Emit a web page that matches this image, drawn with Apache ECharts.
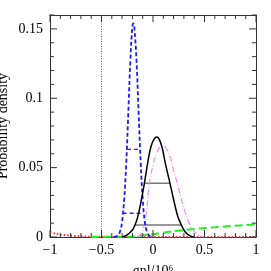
<!DOCTYPE html>
<html><head><meta charset="utf-8">
<script src="https://cdn.jsdelivr.net/npm/echarts@6/dist/echarts.min.js"></script>
<style>html,body{margin:0;padding:0;background:#fff}#c{width:271px;height:271px}</style>
</head><body><div id="c"></div>
<script>
// ---- data ----
var blueCurve = [[-0.38,0],[-0.36,0.0003],[-0.34,0.0012],[-0.32,0.004],[-0.30,0.011],[-0.28,0.027],[-0.26,0.053],[-0.24,0.089],[-0.22,0.127],[-0.20,0.152],[-0.19,0.154],[-0.18,0.150],[-0.16,0.127],[-0.14,0.090],[-0.12,0.054],[-0.10,0.027],[-0.08,0.011],[-0.06,0.004],[-0.04,0.0012],[-0.02,0.0003],[0.0,0]];
var blackCurve = [[-0.30,0],[-0.25,0.0015],[-0.2,0.005],[-0.175,0.0087],[-0.15,0.014],[-0.12,0.024],[-0.084,0.0387],[-0.05,0.054],[-0.02,0.065],[0.01,0.0705],[0.036,0.072],[0.06,0.0705],[0.09,0.064],[0.12,0.053],[0.165,0.0387],[0.2,0.027],[0.24,0.015],[0.275,0.0087],[0.31,0.004],[0.35,0.0012],[0.4,0]];
var pinkCurve = [[-0.15,0],[-0.11,0.003],[-0.085,0.0087],[-0.06,0.02],[-0.035,0.0387],[0.0,0.052],[0.04,0.061],[0.07,0.065],[0.1,0.0656],[0.13,0.064],[0.17,0.057],[0.2,0.048],[0.236,0.0387],[0.28,0.026],[0.32,0.016],[0.36,0.0087],[0.4,0.004],[0.44,0.0015],[0.49,0]];
var greenCurve = [[-0.6,0],[-0.3,0.0002],[-0.2,0.0004],[-0.1,0.001],[0.0,0.002],[0.1,0.003],[0.2,0.0042],[0.3,0.005],[0.4,0.0058],[0.5,0.0064],[0.6,0.007],[0.7,0.0076],[0.8,0.0081],[0.9,0.0086],[1.0,0.009]];
var redCurve = [[-1,0.0035],[-0.95,0.0025],[-0.9,0.0018],[-0.8,0.001],[-0.7,0.0005],[-0.6,0.0002],[-0.5,0.0001],[-0.3,0],[1,0]];
var blackIntervals = [[[-0.084,0.0387],[0.165,0.0387]],[[-0.175,0.0087],[0.275,0.0087]]];
var blueIntervals = [[[-0.252,0.0632],[-0.124,0.0632]],[[-0.295,0.0171],[-0.09,0.0171]]];
var markerX = -0.5;
var xTicks = [-1,-0.5,0,0.5,1];
var xMinorTicks = [-0.9,-0.8,-0.7,-0.6,-0.4,-0.3,-0.2,-0.1,0.1,0.2,0.3,0.4,0.6,0.7,0.8,0.9];
var yTicks = [0,0.05,0.1,0.15];
var yMinorTicks = [0.01,0.02,0.03,0.04,0.06,0.07,0.08,0.09,0.11,0.12,0.13,0.14,0.16];
var yMax = 0.16;

var font = 'Liberation Serif';
var fs = 14;
function fmtX(v){ var r=Math.round(v*100)/100; if(xTicks.indexOf(r)<0) return ''; return r<0?'\u2212'+String(-r):String(r); }
function fmtY(v){ var r=Math.round(v*1000)/1000; if(yTicks.indexOf(r)<0) return ''; return String(r); }
function axLine(){return {show:true,onZero:false,lineStyle:{color:'#333',width:1}};}
function xAx(pos,lab){return {type:'value',position:pos,min:-1,max:1,interval:0.5,
  axisLine:axLine(),axisTick:{show:false},minorTick:{show:false},splitLine:{show:false},
  axisLabel:{show:lab,formatter:fmtX,color:'#000',fontFamily:font,fontSize:fs,margin:6},
  name:lab?'gnl/10\u2076':'',nameLocation:'middle',nameGap:27,nameMoveOverlap:false,
  nameTextStyle:{color:'#000',fontFamily:font,fontSize:fs}};}
function yAx(pos,lab){return {type:'value',position:pos,min:0,max:yMax,interval:0.05,
  axisLine:axLine(),axisTick:{show:false},minorTick:{show:false},splitLine:{show:false},
  axisLabel:{show:lab,formatter:fmtY,color:'#000',fontFamily:font,fontSize:fs,margin:7},
  name:lab?'Probability density':'',nameLocation:'middle',nameGap:40,nameMoveOverlap:false,
  nameTextStyle:{color:'#000',fontFamily:font,fontSize:fs}};}

// tick descriptors: [value, 0 = x-axis / 1 = y-axis, major?]
var tickData = [];
xTicks.forEach(function(v){tickData.push([v,0,1]);});
xMinorTicks.forEach(function(v){tickData.push([v,0,0]);});
yTicks.forEach(function(v){tickData.push([v,1,1]);});
yMinorTicks.forEach(function(v){tickData.push([v,1,0]);});

var series=[];
function line(data,color,width,type,smooth){series.push({type:'line',data:data,showSymbol:false,symbol:'none',smooth:smooth||false,
  lineStyle:{color:color,width:width,type:type},silent:true,animation:false,xAxisIndex:0,yAxisIndex:0});}
line([[markerX,0],[markerX,yMax]],'#666',1,[1,1.5]);
line(redCurve,'#ff2020',2,[1.5,2],0.3);
line(greenCurve,'#22ee22',2,[8,4],0.3);
blackIntervals.forEach(function(s){line(s,'#777',1.5,'solid');});
blueIntervals.forEach(function(s){line(s,'#2222ff',1.3,[4,3]);});
line(pinkCurve,'#f08cf0',1.2,[6,2,1,2],0.4);
line(blueCurve,'#1a1aff',1.8,[4,2.5],0.4);
line(blackCurve,'#000',1.5,'solid',0.4);
// inward tick marks on all four sides, positioned through the axes' scales
series.push({type:'custom',xAxisIndex:0,yAxisIndex:0,silent:true,clip:false,z:10,
  data:tickData,encode:{x:-1,y:-1},
  renderItem:function(params,api){
    var v=api.value(0), kind=api.value(1), len=api.value(2)?7:4;
    var st={stroke:'#333',lineWidth:1};
    if(kind===0){
      var b=api.coord([v,0]), t=api.coord([v,yMax]);
      return {type:'group',children:[
        {type:'line',shape:{x1:b[0],y1:b[1],x2:b[0],y2:b[1]-len},style:st},
        {type:'line',shape:{x1:t[0],y1:t[1],x2:t[0],y2:t[1]+len},style:st}]};
    } else {
      var l=api.coord([-1,v]), r=api.coord([1,v]);
      return {type:'group',children:[
        {type:'line',shape:{x1:l[0],y1:l[1],x2:l[0]+len,y2:l[1]},style:st},
        {type:'line',shape:{x1:r[0],y1:r[1],x2:r[0]-len,y2:r[1]},style:st}]};
    }
  }});

var chart=echarts.init(document.getElementById('c'),null,{renderer:'canvas'});
chart.setOption({animation:false,
  grid:{left:50,right:15,top:15,bottom:34,outerBoundsMode:'none'},
  xAxis:[xAx('bottom',true),xAx('top',false)],
  yAxis:[yAx('left',true),yAx('right',false)],
  series:series});
</script></body></html>
